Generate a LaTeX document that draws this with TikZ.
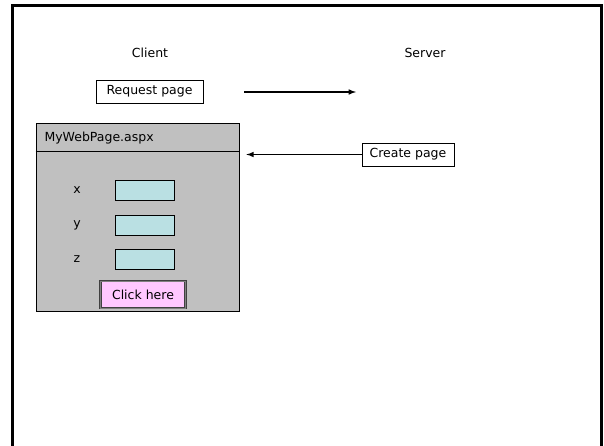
\documentclass[tikz,border=0pt]{standalone}
\usepackage{fontspec}
\setmainfont{DejaVu Sans}
\usetikzlibrary{arrows}

\definecolor{pagegray}{HTML}{C0C0C0}
\definecolor{fieldcyan}{HTML}{BAE0E3}
\definecolor{btnpink}{HTML}{FFC8FF}

\begin{document}
\begin{tikzpicture}[x=1pt,y=-1pt, font=\fontsize{12.5}{14}\selectfont,
  box/.style={draw,line width=.6pt,fill=white,minimum height=23pt,inner sep=2pt},
  field/.style={draw,line width=.8pt,fill=fieldcyan,minimum width=59pt,minimum height=20pt},
  conn/.style={-latex,line width=1.5pt}]

\useasboundingbox (0,0) rectangle (604,445);
\draw [line width=3pt] (12,446) -- (12,5) -- (601,5) -- (601,446);

\node (client) at (150,53) {Client};
\node (server) at (425,53) {Server};

% request from client to server
\node [box,minimum width=107pt] (request) at (149.5,91.5) {Request page};
\coordinate (reqstart) at (244,92);
\coordinate (reqend) at (356,92);
\draw [conn] (reqstart) -- (reqend);

% the page sent back
\node [draw,line width=.6pt,fill=pagegray,minimum width=203pt,minimum height=188pt] (page) at (137.5,217) {};
\draw [line width=.8pt] ([yshift=-29pt]page.north west) -- ([yshift=-29pt]page.north east);
\node [anchor=west] (title) at (41,138) {MyWebPage.aspx};

\node [box,minimum width=92pt] (create) at (408,154.5) {Create page};
\draw [conn] (create.west) -- ([xshift=7pt]page.east |- create.west);

\foreach \n/\y in {x/190,y/225,z/259} {
  \node (lbl\n) at (77,\y) {\n};
  \node [field] (fld\n) at (145,\y) {};
}

\node [draw=black!75,line width=.8pt,double=black!50,double distance=.7pt,fill=btnpink,
  minimum width=85pt,minimum height=27pt] (click) at (143,294.5) {Click here};

\end{tikzpicture}
\end{document}
